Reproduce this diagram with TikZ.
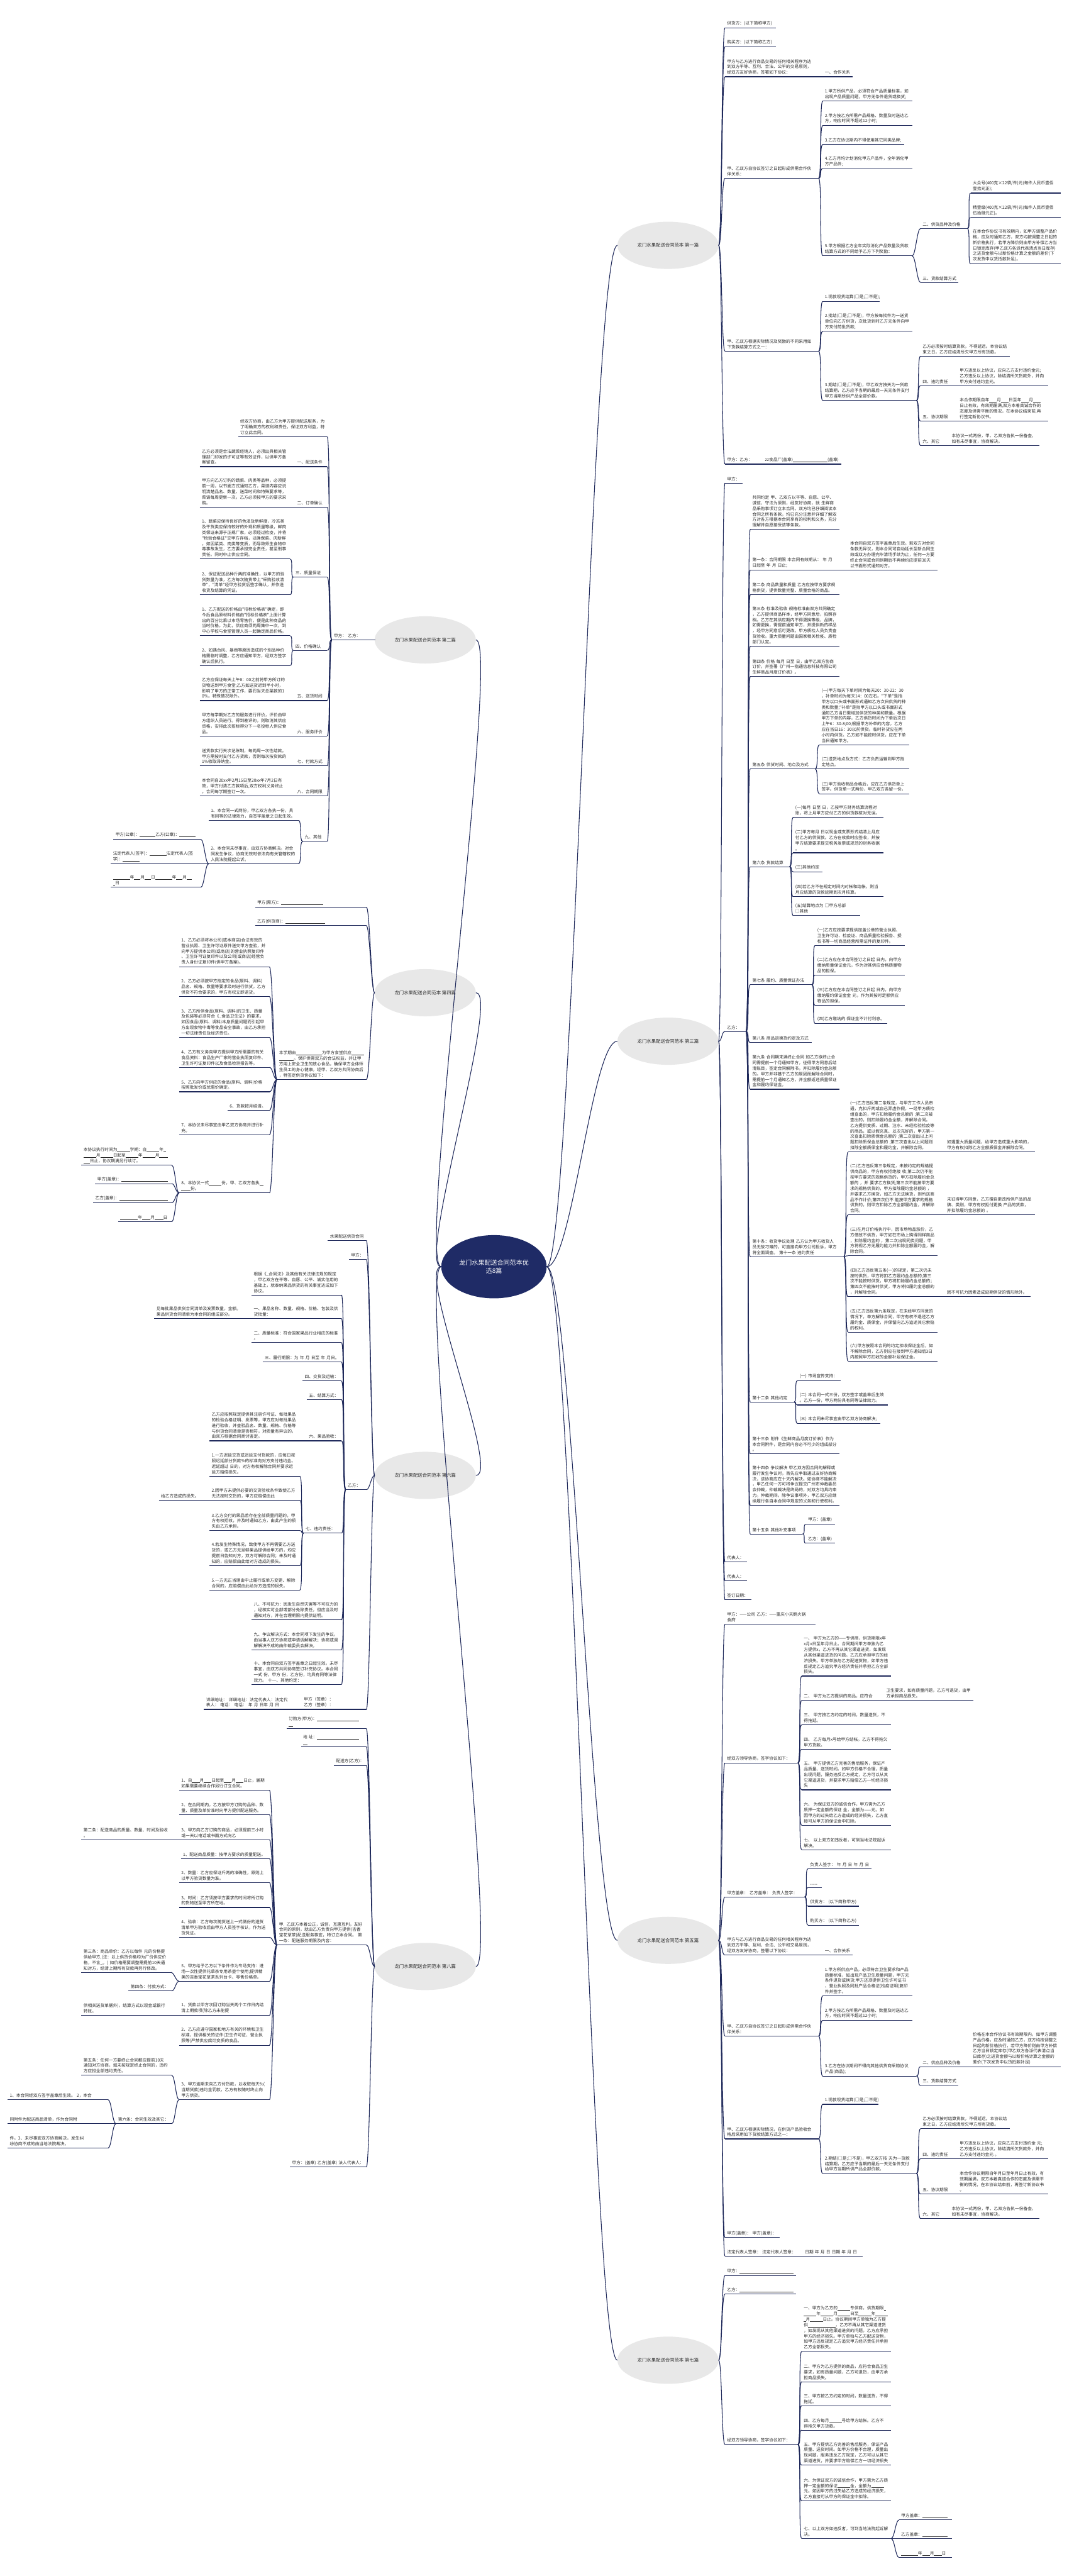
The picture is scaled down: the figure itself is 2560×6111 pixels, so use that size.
\documentclass[tikz,border=0pt]{standalone}
\usepackage{fontspec}
\newfontfamily\cjk{Noto Sans CJK SC}
\usetikzlibrary{shapes.geometric}
\definecolor{ln}{RGB}{30,40,90}
\definecolor{cf}{RGB}{31,43,102}
\definecolor{bf}{RGB}{232,232,232}
\definecolor{tx}{RGB}{40,40,40}
\tikzset{
 tn/.style={anchor=south west, inner xsep=5pt, inner ysep=5pt, align=left, text=tx, font=\cjk\fontsize{10}{13.2}\selectfont},
 ul/.style={draw=ln, line width=1.6pt},
 cn/.style={draw=ln, line width=1.6pt},
 br/.style={ellipse, fill=bf, minimum width=240pt, minimum height=112pt, inner sep=0pt, text=tx, font=\cjk\fontsize{11}{13}\selectfont},
 ct/.style={ellipse, fill=cf, minimum width=250pt, minimum height=150pt, align=center, text=white, font=\cjk\fontsize{15}{19}\selectfont}
}
\newcommand\bk[1]{\rule[-1.2pt]{#1pt}{0.6pt}}
\newcommand\TN[5]{\pgfmathsetmacro\mytw{#3-#2-10}\node[tn, text width=\mytw pt] (#1) at (#2,#4) {#5};\draw[ul] (#1.south west) -- (#1.south east);}
\newcommand\CR[2]{\foreach \cc in {#2}{\draw[cn] (#1.south east) .. controls +(8,0) and +(-8,0) .. (\cc.south west);}}
\newcommand\CL[2]{\foreach \cc in {#2}{\draw[cn] (#1.south west) .. controls +(-8,0) and +(8,0) .. (\cc.south east);}}
\newcommand\CRe[2]{\foreach \cc in {#2}{\draw[cn] (#1.east) .. controls +(8,0) and +(-8,0) .. (\cc.south west);}}
\newcommand\CLe[2]{\foreach \cc in {#2}{\draw[cn] (#1.west) .. controls +(-8,0) and +(8,0) .. (\cc.south east);}}
\begin{document}
\begin{tikzpicture}[x=1pt,y=-1pt]
\fill[white] (0,0) rectangle (2560,6111);
\useasboundingbox (0,0) rectangle (2560,6111);
% ---------- centre and branches
\node[ct] (C) at (1172,3005) {龙门水果配送合同范本优\\选8篇};
\node[br] (B1) at (1585,582) {龙门水果配送合同范本 第一篇};
\node[br] (B3) at (1585,2470) {龙门水果配送合同范本 第三篇};
\node[br] (B5) at (1585,4603) {龙门水果配送合同范本 第五篇};
\node[br] (B7) at (1585,5599) {龙门水果配送合同范本 第七篇};
\node[br] (B2) at (1009,1518) {龙门水果配送合同范本 第二篇};
\node[br] (B4) at (1009,2355) {龙门水果配送合同范本 第四篇};
\node[br] (B6) at (1009,3500) {龙门水果配送合同范本 第六篇};
\node[br] (B8) at (1009,4665) {龙门水果配送合同范本 第八篇};
\foreach \b in {B1,B3,B5,B7}{\draw[cn] (C.east) .. controls +(60,0) and +(-60,0) .. (\b.west);}
\foreach \b in {B2,B4,B6,B8}{\draw[cn] (C.west) .. controls +(-60,0) and +(60,0) .. (\b.east);}
% ---------- branch 1
\TN{p1}{1720}{1840}{66}{供货方：(以下简称甲方)}
\TN{p2}{1720}{1840}{111}{购买方：(以下简称乙方)}
\TN{p3}{1720}{1942}{182}{甲方与乙方进行商品交易的任何相关程序为达\\到双方平等、互利、合法、公平的交易原则，\\经双方友好协商，签署如下协议：}
\TN{p3a}{1952}{2023}{182}{一、合作关系}
\TN{p4}{1720}{1942}{423}{甲、乙双方自协议签订之日起形成供需合作伙\\伴关系：}
\TN{p4a}{1952}{2164}{240}{1.甲方所供产品，必须符合产品质量标准，如\\出现产品质量问题，甲方无条件退货或换货;}
\TN{p4b}{1952}{2164}{298}{2.甲方按乙方所需产品规格、数量及时送达乙\\方，响应时间不超过12小时;}
\TN{p4c}{1952}{2145}{343}{3.乙方在协议期内不得使用其它同类品牌;}
\TN{p4d}{1952}{2164}{400}{4.乙方月均计划消化甲方产品件，全年消化甲\\方产品件;}
\TN{p4e}{1952}{2164}{607}{5.甲方根据乙方全年实际消化产品数量及货款\\结算方式的不同给予乙方下列奖励：}
\TN{p4e1}{2184}{2295}{542}{二、供货品种及价格}
\TN{p4e1a}{2303}{2517}{458}{大众号(400克×22袋/件)元(每件人民币壹佰\\壹拾元正);}
\TN{p4e1b}{2303}{2517}{516}{精壹级(400克×22袋/件)元(每件人民币壹佰\\伍拾肆元正)。}
\TN{p4e1c}{2303}{2517}{626}{在本合作协议书有效期内，如甲方调整产品价\\格，应及时通知乙方，双方均按调整之日起的\\新价格执行，若甲方降价则由甲方补偿乙方当\\日锁定库存(甲乙双方各派代表清点当日库存)\\之进货金额与以新价格计算之金额的差价(下\\次发货中以货抵款补足)。}
\TN{p4e2}{2184}{2274}{670}{三、货款结算方式}
\TN{p5}{1720}{1942}{833}{甲、乙双方根据实际情况及奖励的不同采用如\\下货款结算方式之一：}
\TN{p5a}{1952}{2087}{715}{1.现款现货结算(□是;□不是);}
\TN{p5b}{1952}{2164}{786}{2.批结(□是;□不是)，甲方按每批件为一送货\\单位向乙方供货，次批货到时乙方无条件向甲\\方支付前批货款;}
\TN{p5c}{1952}{2174}{950}{3.期结(□是;□不是)，甲乙双方按天为一货款\\结算期，乙方应予当期的最后一天无条件支付\\甲方当期所供产品全部价款。}
\TN{p5c1}{2184}{2396}{845}{乙方必须按时结算货款，不得延迟。本协议结\\束之日，乙方应结清所欠甲方所有货款。}
\TN{p5c2}{2184}{2265}{915}{四、违约责任}
\TN{p5c2a}{2272}{2486}{915}{甲方违反以上协议，应向乙方支付违约金元;\\乙方违反以上协议，除结清所欠货款外，并向\\甲方支付违约金元。}
\TN{p5c3}{2184}{2265}{999}{五、协议期限}
\TN{p5c3a}{2272}{2486}{999}{本合作期限自年\bk{18}月\bk{18}日至年\bk{18}月\bk{18}\\日止有效，有效期届满,双方本着真诚合作的\\态度及供需平衡的情况，在本协议结束前,再\\行签定新协议书。}
\TN{p5c4}{2184}{2245}{1057}{六、其它}
\TN{p5c4a}{2253}{2466}{1057}{本协议一式两份，甲、乙双方各执一份备查，\\如有未尽事宜，协商解决。}
\TN{p6}{1720}{1808}{1101}{甲方：乙方：}
\TN{p6a}{1810}{1996}{1101}{zz食品厂(盖章)\bk{82}(盖章)}
\CRe{B1}{p1,p2,p3,p4,p5,p6}
\CR{p3}{p3a}\CR{p4}{p4a,p4b,p4c,p4d,p4e}\CR{p4e}{p4e1,p4e2}\CR{p4e1}{p4e1a,p4e1b,p4e1c}
\CR{p5}{p5a,p5b,p5c}\CR{p5c}{p5c1,p5c2,p5c3,p5c4}\CR{p5c2}{p5c2a}\CR{p5c3}{p5c3a}\CR{p5c4}{p5c4a}\CR{p6}{p6a}
% ---------- branch 3
\TN{q1}{1720}{1762}{1146}{甲方：}
\TN{q2}{1720}{1770}{2447}{乙方：}
\TN{q2a}{1780}{1992}{1256}{共同约定 甲、乙双方以平等、自愿、公平、\\诚信、守法为原则，经友好协商，就 生鲜商\\品采购事项订立本合同。双方均已仔细阅读本\\合同之所有条款，均已充分注意并详细了解双\\方对各方根据本合同享有的权利和义务，充分\\理解并自愿接受该等条款。}
\TN{q2b}{1780}{2009}{1352}{第一条：合同期限 本合同有效期从：  年 月\\日起至 年 月 日止;}
\TN{q2b1}{2012}{2224}{1352}{本合同自双方签字盖章后生效。若双方对合同\\条款无异议，则本合同可自动延长至新合同生\\效或双方办理完毕清场手续为止，任何一方要\\终止合同或合同到期后不再续约应提前30天\\以书面形式通知对方。}
\TN{q2c}{1780}{1992}{1411}{第二条 商品数量和质量 乙方应按甲方要求规\\格供货，提供数量完整、质量合格的商品。}
\TN{q2d}{1780}{1992}{1533}{第三条 标准及验收 规格标准由双方共同确定\\，乙方提供商品样本，经甲方同意后，拍照存\\档。乙方在其供应期内不得更换等级，品牌，\\如需更换，需提前通知甲方，并提供新的样品\\，经甲方同意后可更改。甲方质检人员负责查\\货验收。重大质量问题由国家相关检疫、质检\\部门认定。}
\TN{q2e}{1780}{1992}{1605}{第四条 价格 每月 日至 日，由甲乙双方协商\\订价，并签署《广州一指通信息科技有限公司\\生鲜商品月度订价表》。}
\TN{q2f}{1780}{1934}{1824}{第五条 供货时间、地点及方式}
\TN{q2f1}{1944}{2157}{1767}{(一)甲方每天下单时间为每天20：30-22：30\\，补单时间为每天14：00左右。"下单"是指\\甲方以口头或书面形式通知乙方次日供货的种\\类和数量;"补单"是指甲方以口头或书面形式\\通知乙方当日需增加供货的种类和数量。根据\\甲方下单的内容，乙方供货时间为下单后次日\\上午6：30-8;00;根据甲方补单的内容，乙方\\应在当日16：30以前供货。临时补货应在两\\小时内供货。乙方如不能按时供货，应在下单\\当日通知甲方。}
\TN{q2f2}{1944}{2157}{1824}{(二)送货地点及方式：乙方负责运输到甲方指\\定地点。}
\TN{q2f3}{1944}{2157}{1883}{(三)甲方验收物品合格后，应在乙方供货单上\\签字。供货单一式两份，甲乙双方各留一份。}
\TN{q2g}{1780}{1873}{2056}{第六条 货款结算}
\TN{q2g1}{1882}{2096}{1939}{(一)每月 日至 日，乙按甲方财务结算流程对\\账，将上月甲方应付乙方的供货款核对无误。}
\TN{q2g2}{1882}{2096}{2023}{(二)甲方每月 日以现金或支票形式结清上月应\\付乙方的供货款。乙方在收款时应签收，并按\\甲方结算要求提交税务发票或规范的财务收据\\。}
\TN{q2g3}{1882}{1951}{2068}{(三)其他约定}
\TN{q2g4}{1882}{2096}{2127}{(四)若乙方不在规定时间内对帐和结帐，则当\\月应结算的货款延期到次月核算。}
\TN{q2g5}{1882}{2041}{2172}{(五)结算地点为 □甲方总部 □其他}
\TN{q2h}{1780}{1926}{2336}{第七条 履约、质量保证办法}
\TN{q2h1}{1934}{2146}{2243}{(一)乙方应按要求提供加盖公章的营业执照、\\卫生许可证、检疫证、商品质量检验报告、授\\权书等一切商品经营所需证件的复印件。}
\TN{q2h2}{1934}{2146}{2313}{(二)乙方应在本合同签订之日起 日内，向甲方\\缴纳质量保证金元，作为对其供应合格质量物\\品的担保。}
\TN{q2h3}{1934}{2146}{2385}{(三)乙方应在本合同签订之日起 日内，向甲方\\缴纳履约保证金金 元，作为其按时足额供应\\物品的担保。}
\TN{q2h4}{1934}{2105}{2428}{(四)乙方缴纳的.保证金不计付利息。}
\TN{q2i}{1780}{1926}{2473}{第八条 商品退换货约定及方式}
\TN{q2j}{1780}{1992}{2584}{第九条 合同期末满终止合同 如乙方欲终止合\\同需提前一个月通知甲方，征得甲方同意后结\\清账目，签定合同解除书，并扣除履约金总额\\的。甲方并非基于乙方的原因而解除合同时，\\需提前一个月通知乙方，并全额返还质量保证\\金和履约保证金。}
\TN{q2k}{1780}{2002}{2981}{第十条：收货争议处理 乙方认为甲方收货人\\员无故刁难的，可直接向甲方公司投诉，甲方\\将全面调查。 第十一条 违约责任}
\TN{q2k1}{2012}{2224}{2733}{(一)乙方违反第二条规定，与甲方工作人员串\\通，克扣斤两或自己弄虚作假，一经甲方质检\\组查出的，甲方扣除履约金总额的 ;第二次被\\查出的，则扣除履约金全额，并解除合同。\\乙方提供变质、过期、注水、未经检验检疫等\\的商品，或以假充真、以次充好的，甲方第一\\次查出扣除质保金总额的 ;第二次查出以上问\\题扣除质保金总额的 ;第三次查出以上问题则\\扣除全额质保金和履约金，并解除合同。}
\TN{q2k1a}{2242}{2456}{2733}{如遇重大质量问题，给甲方造成重大影响的，\\甲方有权扣除乙方全额质保金并解除合同。}
\TN{q2k2}{2012}{2224}{2882}{(二)乙方违反第三条规定，未按约定的规格提\\供商品的，甲方有权拒绝接 收;第二次仍不能\\按甲方要求的规格供货的，甲方扣除履约金总\\额的 ，并 要求乙方换货;第三次不能按甲方要\\求的规格供货的，甲方扣除履约金总额的 ，\\并要求乙方换货，如乙方无法换货，则所送商\\品不作计价;第四次仍不 能按甲方要求的规格\\供货的，则甲方扣除乙方全部履约金，并解除\\合同。}
\TN{q2k2a}{2242}{2456}{2882}{未征得甲方同意，乙方擅自更改所供产品的品\\牌、类别，甲方有权拒付更换 产品的货款，\\并扣除履约金总额的 。}
\TN{q2k3}{2012}{2224}{2979}{(三)在月订价格执行中，因市场物品涨价，乙\\方借故不供货，甲方如在市场上购得同样商品\\，扣除履约金的 ，第二次出现同类问题，甲\\方将视乙方无履约能力并扣除全额履约金，解\\除合同。}
\TN{q2k4}{2012}{2224}{3076}{(四)乙方违反第五条(一)的规定，第二次仍未\\按时供货，甲方将扣乙方履约金总额的;第三\\次不能按时供货，甲方将扣除履约金总额的；\\第四次不能按时供货，甲方将扣履约金总额的\\，并解除合同。}
\TN{q2k4a}{2242}{2445}{3076}{因不可抗力因素造成延期供货的情形除外。}
\TN{q2k5}{2012}{2224}{3160}{(五)乙方违反第九条规定，在未经甲方同意的\\情况下，单方解除合同，甲方有权不退还乙方\\履约金、质保金，并保留向乙方追述其它索赔\\的权利。}
\TN{q2k6}{2012}{2224}{3229}{(六)甲方按照本合同的约定扣收保证金后，如\\不解除合同，乙方则应在接到甲方通知后3日\\内按照甲方扣收的金额补足保证金。}
\TN{q2l}{1780}{1884}{3326}{第十二条 其他约定}
\TN{q2l1}{1892}{1995}{3275}{(一) 市场宣传支持：}
\TN{q2l2}{1892}{2106}{3333}{(二) 本合同一式三份，双方签字或盖章后生效\\。乙方一份，甲方两份具有同等法律效力。}
\TN{q2l3}{1892}{2088}{3377}{(三) 本合同未尽事宜由甲乙双方协商解决;}
\TN{q2m}{1780}{1992}{3449}{第十三条 附件《生鲜商品月度订价表》作为\\本合同附件，是合同内容必不可少的组成部分\\。}
\TN{q2n}{1780}{1992}{3571}{第十四条 争议解决 甲乙双方因合同的解释或\\履行发生争议时，首先应争取通过友好协商解\\决，该协商应在十天内解决。如协商不能解决\\，甲乙任何一方可将争议提交广州市仲裁委员\\会仲裁，仲裁裁决是终局的，对双方均具约束\\力。仲裁期间，除争议事项外，甲乙双方应继\\续履行各自本合同中规定的义务和行使权利。}
\TN{q2o}{1780}{1904}{3639}{第十五条 其他补充事项}
\TN{q2o1}{1912}{1981}{3616}{甲方：(盖章)}
\TN{q2o2}{1912}{1981}{3661}{乙方：(盖章)}
\TN{q3}{1720}{1772}{3705}{代表人：}
\TN{q4}{1720}{1772}{3750}{代表人：}
\TN{q5}{1720}{1782}{3795}{签订日期：}
\CRe{B3}{q1,q2,q3,q4,q5}
\CR{q2}{q2a,q2b,q2c,q2d,q2e,q2f,q2g,q2h,q2i,q2j,q2k,q2l,q2m,q2n,q2o}
\CR{q2b}{q2b1}\CR{q2f}{q2f1,q2f2,q2f3}\CR{q2g}{q2g1,q2g2,q2g3,q2g4,q2g5}\CR{q2h}{q2h1,q2h2,q2h3,q2h4}
\CR{q2k}{q2k1,q2k2,q2k3,q2k4,q2k5,q2k6}\CR{q2k1}{q2k1a}\CR{q2k2}{q2k2a}\CR{q2k4}{q2k4a}
\CR{q2l}{q2l1,q2l2,q2l3}\CR{q2o}{q2o1,q2o2}
% ---------- branch 5
\TN{s1}{1720}{1934}{3853}{甲方：——公司 乙方：——重庆小天鹅火锅\\食府}
\TN{s2}{1720}{1893}{4182}{经双方领导协商，签字协议如下：}
\TN{s2a}{1902}{2114}{3976}{一、 甲方为乙方的——专供商，供货期限x年\\x月x日至年月日止。合同期间甲方单独为乙\\方提供x，乙方不再从其它渠道进货，如发现\\从其他渠道进货的问题。乙方应承担甲方的经\\济损失。甲方单独与乙方配送货物，如甲方违\\反规定乙方追究甲方经济责任并承担乙方全部\\损失。}
\TN{s2b}{1902}{2093}{4034}{二、 甲方为乙方提供的商品，应符合}
\TN{s2b1}{2098}{2309}{4034}{卫生要求，如有质量问题，乙方可退货，由甲\\方承担商品损失。}
\TN{s2c}{1902}{2114}{4092}{三、 甲方按乙方约定的时间，数量送货，不\\得拖延。}
\TN{s2d}{1902}{2114}{4150}{四、 乙方每月x号给甲方结帐。乙方不得拖欠\\甲方货款。}
\TN{s2e}{1902}{2114}{4246}{五、 甲方提供乙方完善的售后服务，保证产\\品质量、送货时间。如甲方价格不合理，质量\\出现问题，服务违反乙方规定，乙方可以从其\\它渠道进货，并要求甲方赔偿乙方一切经济损\\失}
\TN{s2f}{1902}{2114}{4330}{六、 为保证双方的诚信合作，甲方需为乙方\\质押一定金额的保证 金，金额为——元。如\\因甲方的过失给乙方造成的经济损失，乙方直\\接可从甲方的保证金中扣除。}
\TN{s2g}{1902}{2114}{4388}{七、 以上双方如违反者，可到当地法院起诉\\解决。}
\TN{s3}{1720}{1909}{4500}{甲方盖章：  乙方盖章：  负责人签字：}
\TN{s3a}{1917}{2067}{4433}{负责人签字：  年  月  日  年  月  日}
\TN{s3b}{1917}{1950}{4478}{-----}
\TN{s3c}{1917}{2038}{4522}{供货方：  (以下简称甲方)}
\TN{s3d}{1917}{2038}{4567}{购买方：  (以下简称乙方)}
\TN{s4}{1720}{1942}{4638}{甲方与乙方进行商品交易的任何相关程序为达\\到双方平等、互利、合法、公平和交易原则，\\经双方友好协商，签署以下协议：}
\TN{s4a}{1952}{2023}{4638}{一、合作关系}
\TN{s5}{1720}{1942}{4830}{甲、乙双方自协议签订之日起形成供需合作伙\\伴关系：}
\TN{s5a}{1952}{2164}{4735}{1.甲方所供应产品，必须符合卫生要求和产品\\质量标准，如出现产品卫生质量问题，甲方无\\条件退货或换货;甲方还须提供卫生许可证书\\、营业执照及同批产品合格证(检疫证明)复印\\件并签字。}
\TN{s5b}{1952}{2164}{4793}{2.甲方按乙方所需产品规格、数量及时送达乙\\方，响应时间不超过12小时;}
\TN{s5c}{1952}{2174}{4925}{3.乙方在协议期间不得向其他供货商采购协议\\产品(商品);}
\TN{s5c1}{2184}{2295}{4903}{二、供应品种及价格}
\TN{s5c1a}{2303}{2517}{4903}{价格在本合作协议书有效期限内，如甲方调整\\产品价格，应及时通知乙方，双方均按调整之\\日起的新价格执行，若甲方降价则由甲方补偿\\乙方当日锁定库存(甲乙双方各派代表清点当\\日库存)之进货金额与以新价格计算之金额的\\差价(下次发货中以货抵款补足)}
\TN{s5c2}{2184}{2274}{4947}{三、货款结算方式}
\TN{s6}{1720}{1942}{5074}{甲、乙双方根据实际情况，在供货产品验收合\\格后采用如下货款结算方式之一：}
\TN{s6a}{1952}{2084}{4992}{1.现款现货结算(□是;□不是)}
\TN{s6b}{1952}{2174}{5156}{2.期结(□是;□不是)，甲乙双方按 天为一货款\\结算期，乙方应予当期的最后一天无条件支付\\给甲方当期所供产品全部价款。}
\TN{s6b1}{2184}{2396}{5050}{乙方必须按时结算货款，不得延迟。本协议结\\束之日，乙方应结清所欠甲方所有货款。}
\TN{s6b2}{2184}{2265}{5121}{四、违约责任}
\TN{s6b2a}{2272}{2486}{5121}{甲方违反以上协议，应向乙方支付违约金 元;\\乙方违反以上协议，除结清所欠货款外，并向\\乙方支付违约金元 。}
\TN{s6b3}{2184}{2265}{5205}{五、协议期限}
\TN{s6b3a}{2272}{2486}{5205}{本合作协议期限自年月日至年月日止有效，有\\效期届满，双方本着真诚合作的态度及供需平\\衡的情况，在本协议结束前，再签订新协议书\\。}
\TN{s6b4}{2184}{2245}{5263}{六、其它}
\TN{s6b4a}{2253}{2466}{5263}{本协议一式两份，甲、乙双方各执一份备查，\\如有未尽事宜，协商解决。}
\TN{s7}{1720}{1849}{5308}{甲方(盖章)：  甲方(盖章)：}
\TN{s8}{1720}{1900}{5352}{法定代表人签章：  法定代表人签章：}
\TN{s8a}{1905}{2047}{5352}{日期 年 月 日 日期 年 月 日}
\CRe{B5}{s1,s2,s3,s4,s5,s6,s7,s8}
\CR{s2}{s2a,s2b,s2c,s2d,s2e,s2f,s2g}\CR{s2b}{s2b1}\CR{s3}{s3a,s3b,s3c,s3d}\CR{s4}{s4a}
\CR{s5}{s5a,s5b,s5c}\CR{s5c}{s5c1,s5c2}\CR{s5c1}{s5c1a}
\CR{s6}{s6a,s6b}\CR{s6b}{s6b1,s6b2,s6b3,s6b4}\CR{s6b2}{s6b2a}\CR{s6b3}{s6b3a}\CR{s6b4}{s6b4a}\CR{s8}{s8a}
% ---------- branch 7
\TN{t1}{1720}{1888}{5398}{甲方：\bk{128}}
\TN{t2}{1720}{1888}{5442}{乙方：\bk{128}}
\TN{t3}{1720}{1893}{5799}{经双方领导协商，签字协议如下：}
\TN{t3a}{1902}{2114}{5578}{一、甲方为乙方的\bk{30}专供商，供货期限\bk{5}\\\bk{30}年\bk{30}月\bk{30}日至\bk{30}年\bk{30}\\\bk{5}月\bk{30}日止。协议期间甲方单独为乙方提\\供\bk{65}，乙方不再从其它渠道进货\\，如发现从其他渠道进货的问题。乙方应承担\\甲方的经济损失。甲方单独与乙方配送货物，\\如甲方违反规定乙方追究甲方经济责任并承担\\乙方全部损失。}
\TN{t3b}{1902}{2114}{5650}{二、甲方为乙方提供的商品，应符合食品卫生\\要求，如有质量问题，乙方可退货，由甲方承\\担商品损失。}
\TN{t3c}{1902}{2114}{5707}{三、甲方按乙方约定的时间，数量送货，不得\\拖延。}
\TN{t3d}{1902}{2114}{5765}{四、乙方每月\bk{30}号给甲方结帐。乙方不\\得拖欠甲方货款。}
\TN{t3e}{1902}{2114}{5848}{五、甲方提供乙方完善的售后服务，保证产品\\质量、送货时间。如甲方价格不合理，质量出\\现问题，服务违反乙方规定，乙方可以从其它\\渠道进货，并要求甲方赔偿乙方一切经济损失}
\TN{t3f}{1902}{2114}{5933}{六、为保证双方的诚信合作，甲方需为乙方质\\押一定金额的保证\bk{30}金，金额为\bk{30}\\元。如因甲方的过失给乙方造成的经济损失，\\乙方直接可从甲方的保证金中扣除。}
\TN{t3g}{1902}{2114}{6022}{七、以上双方如违反者，可到当地法院起诉解\\决。}
\TN{t3g1}{2133}{2259}{5978}{甲方盖章：\bk{60}}
\TN{t3g2}{2133}{2259}{6022}{乙方盖章：\bk{60}}
\TN{t3g3}{2133}{2259}{6067}{\bk{40}年\bk{18}月\bk{18}日}
\CRe{B7}{t1,t2,t3}
\CR{t3}{t3a,t3b,t3c,t3d,t3e,t3f,t3g}\CR{t3g}{t3g1,t3g2,t3g3}
% ---------- branch 2 (left)
\TN{u0}{787}{889}{1518}{甲方：  乙方：}
\TN{u1}{565}{776}{1036}{经双方协商，由乙方为甲方提供配送服务，为\\了明确双方的权利和责任，保证双方利益，特\\订立此合同。}
\TN{u2}{700}{776}{1107}{一、配送条件}
\TN{u2a}{474}{700}{1107}{乙方必须是合法蔬菜经销人，必须出具相关管\\理部门印发的许可证等有效证件，以供甲方备\\案留查。}
\TN{u3}{700}{776}{1203}{二、订单确认}
\TN{u3a}{474}{700}{1203}{甲方向乙方订购的蔬菜、肉类等品种，必须提\\前一周，以书面方式通知乙方，菜谱内容应说\\明清楚品名、数量、送菜时间和特殊要求等，\\菜谱每周更新一次。乙方必须按甲方的要求采\\购。}
\TN{u4}{696}{776}{1369}{三、质量保证}
\TN{u4a}{474}{688}{1326}{1、蔬菜应保持良好的色泽及新鲜度，冷冻类\\及干货类应保持较好的外观和质量等级，鲜肉\\类保证来源于正规厂家，必须经过检疫，并将\\"检验合格证"交甲方存档，以确保菜、肉新鲜\\。如因菜类、肉类等变质，而导致师生食物中\\毒事故发生，乙方要承担完全责任，甚至刑事\\责任。同时中止供应合同。}
\TN{u4b}{474}{688}{1411}{2、保证配送品种斤两的准确性，以甲方的验\\货数量为准，乙方每次随货带上"采购验收清\\单"，"清单"经甲方验货后签字确认，并作送\\收货及结算的凭证。}
\TN{u5}{696}{776}{1543}{四、价格确认}
\TN{u5a}{474}{688}{1508}{1、乙方配送的价格由"招标价格表"确定，即\\今后食品原材料价格由"招标价格表"上面计算\\出的百分比乘以市场零售价，便是此种商品的\\当时价格。为此，供应商须两周集中一次，到\\中心学校与食堂管理人员一起确定商品价格。}
\TN{u5b}{474}{688}{1579}{2、如遇台风、暴雨等原因造成的个别品种价\\格需临时调整，乙方应通知甲方，经双方签字\\确认后执行。}
\TN{u6}{700}{776}{1662}{五、送货时间}
\TN{u6a}{474}{700}{1662}{乙方应保证每天上午8：00之前将甲方所订的\\货物送到甲方食堂;乙方如送货迟到半小时，\\影响了甲方的正常工作，要罚当天总菜款的1\\0\%。特殊情况除外。}
\TN{u7}{700}{776}{1746}{六、服务评价}
\TN{u7a}{474}{700}{1746}{甲方每学期对乙方的服务进行评价，评价由甲\\方组织人员进行。得到差评的，则取消其供应\\资格，安排此次招标得分下一名投标人供应食\\品。}
\TN{u8}{700}{776}{1817}{七、付款方式}
\TN{u8a}{474}{700}{1817}{送货款实行天次记账制，每两周一次性结款。\\甲方需按时支付乙方货款，否则每次按货款的\\1\%收取滞纳金。}
\TN{u9}{700}{776}{1888}{八、合同期限}
\TN{u9a}{474}{700}{1888}{本合同自20xx年2月15日至20xx年7月2日有\\效，甲方付清乙方款项后,双方权利义务终止\\。合同每学期签订一次。}
\TN{u10}{718}{776}{1996}{九、其他}
\TN{u10a}{495}{708}{1946}{1、本合同一式两份，甲乙双方各执一份，具\\有同等的法律效力，自签字盖章之日起生效。}
\TN{u10b}{495}{708}{2049}{2、本合同未尽事宜，由双方协商解决。对合\\同发生争议，协商无效时依法向有关管辖权的\\人民法院提起公诉。}
\TN{u10b1}{269}{476}{1991}{甲方(公章)：\bk{38}乙方(公章)：\bk{38}}
\TN{u10b2}{263}{485}{2049}{法定代表人(签字)：\bk{40}法定代表人(签\\字)：\bk{40}}
\TN{u10b3}{263}{476}{2105}{\bk{40}年\bk{15}月\bk{15}日\bk{40}年\bk{15}月\bk{12}\\\bk{5}日}
\draw[cn] (B2.west) -- (u0.south east);
\CL{u0}{u1,u2,u3,u4,u5,u6,u7,u8,u9,u10}
\CL{u2}{u2a}\CL{u3}{u3a}\CL{u4}{u4a,u4b}\CL{u5}{u5a,u5b}\CL{u6}{u6a}\CL{u7}{u7a}\CL{u8}{u8a}\CL{u9}{u9a}
\CL{u10}{u10a,u10b}\CL{u10b}{u10b1,u10b2,u10b3}
% ---------- branch 4 (left)
\TN{v1}{605}{869}{2152}{甲方(需方)：\bk{100}}
\TN{v2}{605}{869}{2196}{乙方(供货商)：\bk{95}}
\TN{v3}{657}{869}{2561}{本学期由\bk{62}为甲方食堂供应\bk{30}\\\bk{35}。保护供需双方的合法权益，并让甲\\方用上安全卫生的放心食品，确保甲方全体师\\生员工的身心健康。经甲、乙双方共同协商后\\，特签定供货协议如下：}
\TN{v3a}{425}{639}{2294}{1、乙方必须将本公司(或本商店)合法有效的\\营业执照、卫生许可证原件送交甲方查验，并\\向甲方提供本公司(或商店)的营业执照复印件\\、卫生许可证复印件以及公司(或商店)经营负\\责人身份证复印件(供甲方备案)。}
\TN{v3b}{425}{639}{2364}{2、乙方必须按甲方指定的食品(原料、调料)\\品名、规格、数量等要求及时进行供货。乙方\\供货不符合要求的，甲方有权立即退货。}
\TN{v3c}{425}{639}{2461}{3、乙方所供食品(原料、调料)的卫生、质量\\及包装等必须符合《\_食品卫生法》的要求，\\如因食品(原料、调料)本身质量问题而引起甲\\方出现食物中毒等食品安全事故，由乙方承担\\一切法律责任及经济责任。}
\TN{v3d}{425}{639}{2532}{4、乙方有义务向甲方提供甲方所需要的有关\\食品资料：食品生产厂家的营业执照复印件、\\卫生许可证复印件以及食品检测报告等。}
\TN{v3e}{425}{639}{2590}{5、乙方向甲方供应的食品(原料、调料)价格\\按照批发价或优惠价确定。}
\TN{v3f}{540}{639}{2634}{6、货款按月结清。}
\TN{v3g}{425}{639}{2692}{7、本协议未尽事宜由甲乙双方协商并进行补\\充。}
\TN{v3h}{425}{639}{2830}{8、本协议一式\bk{30}份，甲、乙双方各执\bk{10}\\\bk{22}份。}
\TN{v3h1}{193}{407}{2764}{本协议执行时间为\bk{30}学期：自\bk{30}年\bk{5}\\\bk{30}月\bk{30}日起至\bk{30}年\bk{30}月\bk{20}\\\bk{15}日止，协议期满另行续订。}
\TN{v3h2}{226}{407}{2808}{甲方(盖章)：\bk{110}}
\TN{v3h3}{221}{407}{2853}{乙方(盖章)：\bk{115}}
\TN{v3h4}{280}{407}{2898}{\bk{42}年\bk{20}月\bk{20}日}
\CLe{B4}{v1,v2,v3}
\CL{v3}{v3a,v3b,v3c,v3d,v3e,v3f,v3g,v3h}\CL{v3h}{v3h1,v3h2,v3h3,v3h4}
% ---------- branch 6 (left)
\TN{w1}{778}{869}{2943}{水果配送供货合同}
\TN{w2}{828}{869}{2988}{甲方：}
\TN{w3}{820}{869}{3534}{乙方：}
\TN{w3a}{597}{810}{3072}{根据《\_合同法》及其他有关法律法规的规定\\，甲乙双方在平等、自愿、公平、诚实信用的\\基础上，就泰纳果品供货的有关事宜达成如下\\协议。}
\TN{w3b}{597}{810}{3128}{一、果品名称、数量、规格、价格、包装及供\\货批量：}
\TN{w3b1}{366}{588}{3128}{见每批果品供货合同清单及发票数量，金额。\\果品供货合同清单为本合同的组成部分。}
\TN{w3c}{597}{810}{3185}{二、质量标准：符合国家果品行业相应的标准\\。}
\TN{w3d}{623}{810}{3231}{三、履行期限：为 年 月 日至 年 月日。}
\TN{w3e}{718}{810}{3276}{四、交货及运输：}
\TN{w3f}{728}{810}{3320}{五、结算方式：}
\TN{w3g}{728}{810}{3418}{六、果品验收：}
\TN{w3g1}{497}{711}{3418}{乙方应按照规定提供其注册许可证、每批果品\\的检验合格证明、发票等，甲方应对每批果品\\进行验收，并查验品名、数量、规格、价格等\\与供货合同清单是否相符，对质量有异议的，\\由双方根据合同商讨鉴定。}
\TN{w3h}{720}{810}{3637}{七、违约责任：}
\TN{w3h1}{497}{711}{3502}{1.一方迟延交货或迟延支付货款的，应每日按\\照迟延部分货款\%的标准向对方支付违约金。\\迟延超过 日的，对方有权解除合同并要求迟\\延方赔偿损失。}
\TN{w3h2}{497}{711}{3559}{2.因甲方未提供必要的交货验收条件致使乙方\\无法按时交货的，甲方应赔偿由此}
\TN{w3h2a}{377}{494}{3559}{给乙方造成的损失。}
\TN{w3h3}{497}{711}{3631}{3.乙方交付的果品若存在全部质量问题的，甲\\方有权拒收，并及时通知乙方，由此产生的损\\失由乙方承担。}
\TN{w3h4}{497}{711}{3714}{4.若发生特殊情况，致使甲方不再需要乙方送\\货的，或乙方无足够果品提供给甲方的，均应\\提前日告知对方，双方可解除合同；未及时通\\知的，应赔偿由此给对方造成的损失。}
\TN{w3h5}{497}{711}{3772}{5.一方无正当理由中止履行或单方变更、解除\\合同的，应赔偿由此给对方造成的损失。}
\TN{w3i}{597}{810}{3843}{八、不可抗力：因发生自然灾害等不可抗力的\\，经核实可全部或部分免除责任，但应当及时\\通知对方，并在合理期限内提供证明。}
\TN{w3j}{597}{810}{3914}{九、争议解决方式：本合同项下发生的争议，\\由当事人双方协商或申请调解解决；协商或调\\解解决不成的由仲裁委员会解决。}
\TN{w3k}{597}{810}{3996}{十、本合同自双方签字盖章之日起生效。未尽\\事宜，由双方共同协商签订补充协议。本合同\\一式 份，甲方 份，乙方份，均具有同等法律\\效力。 十一、其他约定：}
\TN{w4}{716}{869}{4055}{甲方（签章）：  乙方（签章）：}
\TN{w4a}{484}{711}{4055}{详细地址：  详细地址：法定代表人：法定代\\表人：  电话：  电话：  年 月 日年 月 日}
\CLe{B6}{w1,w2,w3,w4}
\CL{w3}{w3a,w3b,w3c,w3d,w3e,w3f,w3g,w3h,w3i,w3j,w3k}
\CL{w3b}{w3b1}\CL{w3g}{w3g1}\CL{w3h}{w3h1,w3h2,w3h3,w3h4,w3h5}\CL{w3h2}{w3h2a}\CL{w4}{w4a}
% ---------- branch 8 (left)
\TN{x1}{680}{869}{4101}{订购方(甲方)：\bk{100} \bk{10}}
\TN{x2}{714}{869}{4144}{地 址：\bk{100} \bk{10}}
\TN{x3}{792}{869}{4188}{配送方(乙方)：}
\TN{x4}{657}{869}{4614}{甲. 乙双方本着公正，诚信，互惠互利，友好\\合同的原则，就由乙方负责向甲方提供(吉香\\宝花草茶)配送服务事宜，特订立本合同。 第\\一条：配送服务期限及内容：}
\TN{x4a}{425}{639}{4247}{1、自\bk{18}月\bk{18}日起至\bk{18}月\bk{18}日止，届期\\如果需要继续合作另行订立合同。}
\TN{x4b}{425}{639}{4305}{2、在合同期内，乙方按甲方订购的品种、数\\量、质量及单价准时向甲方提供配送服务。}
\TN{x4c}{425}{639}{4364}{3、甲方向乙方订购的商品，必须提前三小时\\或一天以电话或书面方式向乙}
\TN{x4c1}{193}{420}{4364}{第二条：配送商品的质量、数量、时间及验收\\。}
\TN{x4d}{429}{639}{4409}{1、配送商品质量：按甲方要求的质量配送。}
\TN{x4e}{425}{639}{4466}{2、数量：乙方应保证斤两的准确性，原则上\\以甲方验货数量为准。}
\TN{x4f}{425}{639}{4525}{3、时间：乙方须按甲方要求的时间将所订购\\的货物送至甲方所在地。}
\TN{x4g}{425}{639}{4596}{4、验收：乙方每次随货送上一式俩份的送货\\清单甲方验收后由甲方人员签字核认，作为送\\货凭证。}
\TN{x4h}{425}{639}{4700}{5、甲方给予乙方以下条件作为专场支持：进\\场一次性提供花草茶专用茶壶个使用;提供精\\美的吉香宝花草茶系列台卡、零售价格单。}
\TN{x4h1}{193}{405}{4679}{第三条：商品单价：乙方以每件 元的价格提\\供给甲方,(注：以上供货价格均为厂价供应价\\格，不含\_。) 如价格需要调整需提前10天通\\知对方，结清上期所有货款再另行修改。}
\TN{x4h2}{305}{407}{4723}{第四条：付款方式：}
\TN{x4i}{425}{639}{4781}{1、货款以甲方次回订购当天两个工作日内结\\清上期款项(除乙方未能提}
\TN{x4i1}{193}{420}{4781}{供相关送货单据外)，结算方式以现金或银行\\转账。}
\TN{x4j}{425}{639}{4852}{2、乙方应遵守国家和地方有关的环境和卫生\\标准，提供相关的证件(卫生许可证、营业执\\照等)严禁供应腐烂变质的食品。}
\TN{x4k}{425}{639}{4981}{3、甲方逾期未向乙方付货款，以收取每天\%(\\当期货款)违约金罚款，乙方有权随时终止向\\甲方供货。}
\TN{x4k1}{193}{407}{4923}{第五条：任何一方要终止合同都应提前10天\\通知对方协商，如未按规定终止合同的，违约\\方应担全部违约责任。}
\TN{x4k2}{275}{407}{5038}{第六条：合同生效及其它：}
\TN{x4k2a}{18}{256}{4981}{1、本合同经双方签字盖章后生效。 2，本合}
\TN{x4k2b}{18}{256}{5038}{同附件为配送商品清单，作为合同附}
\TN{x4k2c}{18}{256}{5096}{件。3、未尽事宜双方协商解决，发生纠\\纷协商不成的由当地法院裁决。}
\TN{x5}{688}{869}{5141}{甲方：(盖章) 乙方(盖章) 法人代表人：}
\CLe{B8}{x1,x2,x3,x4,x5}
\CL{x4}{x4a,x4b,x4c,x4d,x4e,x4f,x4g,x4h,x4i,x4j,x4k}
\CL{x4c}{x4c1}\CL{x4h}{x4h1,x4h2}\CL{x4i}{x4i1}\CL{x4k}{x4k1,x4k2}\CL{x4k2}{x4k2a,x4k2b,x4k2c}
\end{tikzpicture}
\end{document}
